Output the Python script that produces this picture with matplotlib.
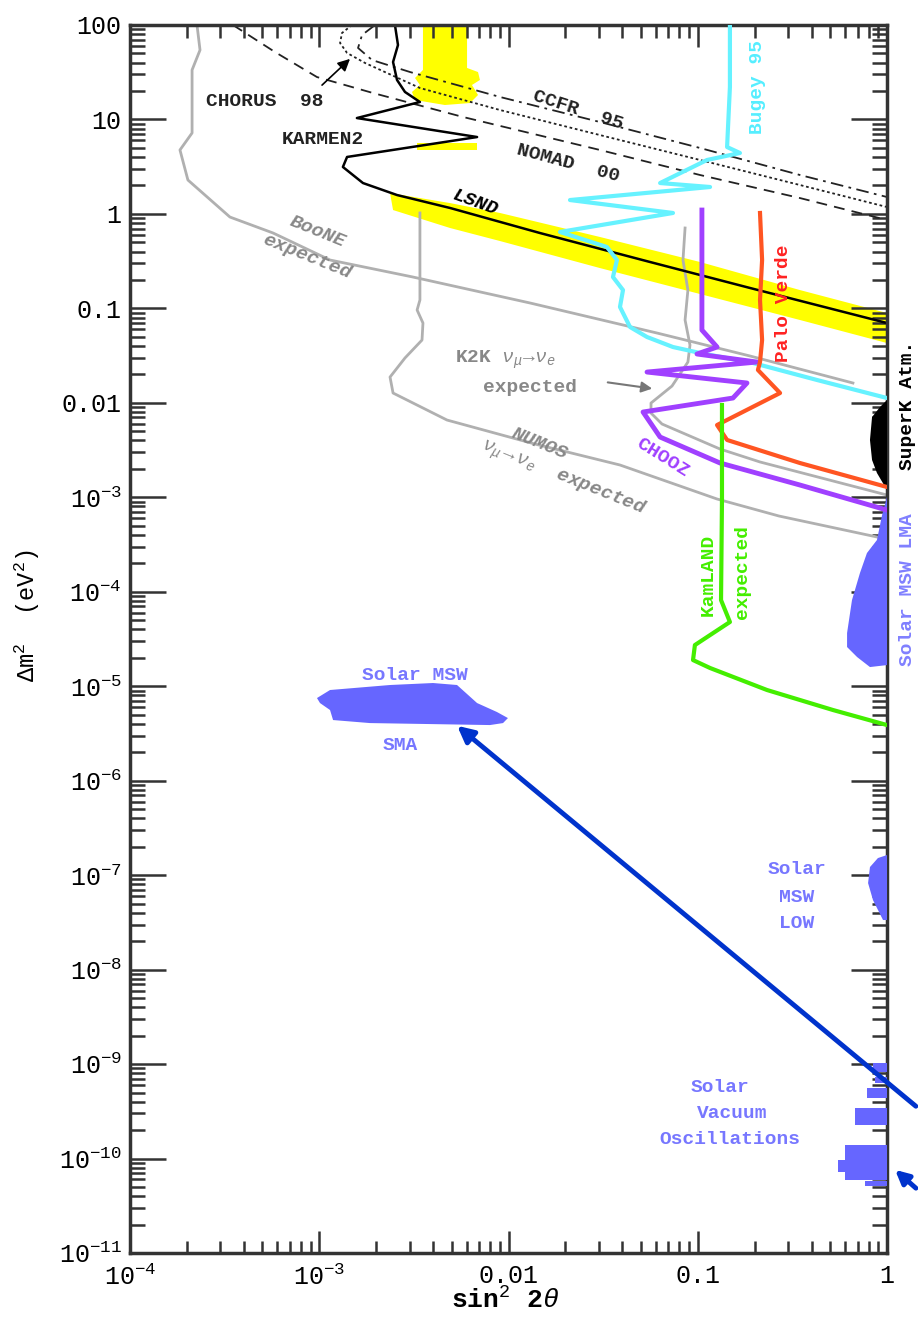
import matplotlib.pyplot as plt
import numpy as np
from matplotlib.ticker import FixedLocator, LogLocator, NullFormatter

plt.rcParams['font.family'] = ['Liberation Mono', 'DejaVu Sans Mono']
plt.rcParams['mathtext.fontset'] = 'custom'
plt.rcParams['mathtext.rm'] = 'Liberation Mono'
plt.rcParams['mathtext.it'] = 'Liberation Mono:italic'
plt.rcParams['mathtext.bf'] = 'Liberation Mono:bold'

# all curves stored as log10(sin^2 2theta), log10(dm^2 / eV^2)
boone_lx = [-3.646, -3.630, -3.672, -3.672, -3.736, -3.694, -3.472, -3.244, -2.943, -2.505, -1.886, -1.215, -0.724, -0.180]
boone_ly = [2.0, 1.735, 1.524, 0.857, 0.677, 0.359, -0.033, -0.202, -0.488, -0.668, -0.943, -1.261, -1.504, -1.790]

k2k_lx = [-1.067, -1.078, -1.052, -1.067, -1.041, -1.052, -1.136, -1.247, -1.247, -1.189, -0.882, -0.671, 0.0]
k2k_ly = [-0.149, -0.488, -0.806, -1.123, -1.388, -1.568, -1.822, -2.002, -2.108, -2.224, -2.489, -2.626, -2.976]

numi_lx = [-2.468, -2.468, -2.483, -2.452, -2.457, -2.547, -2.626, -2.610, -2.325, -1.860, -1.411, -0.898, -0.571, -0.053]
numi_ly = [0.010, -0.911, -1.017, -1.155, -1.335, -1.525, -1.727, -1.896, -2.182, -2.436, -2.658, -3.018, -3.198, -3.420]

nomad_lx = [-3.456, -3.234, -3.012, -2.716, -2.240, -1.517, -0.988, -0.460, 0.0]
nomad_ly = [2.0, 1.714, 1.449, 1.280, 1.026, 0.677, 0.412, 0.168, -0.064]

ccfr_lx = [-2.705, -2.774, -2.795, -2.721, -2.520, -2.045, -1.517, -0.988, -0.460, 0.0]
ccfr_ly = [2.0, 1.894, 1.757, 1.629, 1.502, 1.238, 0.973, 0.698, 0.412, 0.179]

chorus_lx = [-2.827, -2.880, -2.890, -2.853, -2.758, -2.468, -2.045, -1.517, -0.988, -0.460, 0.0]
chorus_ly = [2.0, 1.915, 1.809, 1.704, 1.598, 1.333, 1.100, 0.835, 0.571, 0.306, 0.073]

karmen_lx = [-2.600, -2.584, -2.610, -2.589, -2.547, -2.468, -2.801, -2.166, -2.853, -2.875, -2.769, -2.589, -2.309, -1.834, -1.252, -0.724, 0.0]
karmen_ly = [2.0, 1.788, 1.608, 1.418, 1.291, 1.185, 1.015, 0.814, 0.603, 0.497, 0.327, 0.200, 0.063, -0.202, -0.509, -0.784, -1.155]

lsnd_up_lx = [-2.626, -2.309, -2.045, -1.517, -0.988, -0.460, 0.0]
lsnd_up_ly = [0.221, 0.115, 0.010, -0.244, -0.509, -0.806, -1.049]
lsnd_lo_lx = [-2.610, -2.309, -2.045, -1.517, -0.988, -0.460, 0.0]
lsnd_lo_ly = [0.041, -0.149, -0.287, -0.573, -0.848, -1.123, -1.367]
lsnd_top_lx = [-2.452, -2.219, -2.219, -2.161, -2.151, -2.193, -2.161, -2.203, -2.336, -2.494, -2.510, -2.468, -2.494, -2.452]
lsnd_top_ly = [2.0, 2.0, 1.545, 1.502, 1.418, 1.365, 1.259, 1.174, 1.153, 1.206, 1.291, 1.365, 1.439, 1.524]
lsnd_stripe_lx = [-2.483, -2.166]
lsnd_stripe_ly = [0.677, 0.751]

bugey_lx = [-0.830, -0.830, -0.845, -0.777, -0.951, -1.199, -0.935, -1.675, -1.131, -1.728, -1.480, -1.427, -1.448, -1.395, -1.411, -1.358, -1.268, -1.131, -0.988, -0.708, -0.370, 0.0]
bugey_ly = [2.0, 1.344, 0.708, 0.645, 0.571, 0.327, 0.285, 0.147, 0.010, -0.191, -0.350, -0.488, -0.668, -0.806, -0.985, -1.197, -1.303, -1.409, -1.472, -1.578, -1.758, -1.949]

chooz_lx = [-0.978, -0.978, -0.898, -1.004, -0.687, -1.268, -0.740, -0.814, -1.289, -1.199, -0.882, -0.460, 0.0]
chooz_ly = [0.041, -1.229, -1.409, -1.483, -1.568, -1.674, -1.790, -1.949, -2.097, -2.362, -2.637, -2.870, -3.135]

palo_lx = [-0.671, -0.660, -0.671, -0.660, -0.671, -0.682, -0.565, -0.898, -0.845, -0.460, 0.0]
palo_ly = [0.010, -0.488, -0.911, -1.335, -1.568, -1.652, -1.896, -2.235, -2.393, -2.637, -2.891]

kamland_lx = [-0.872, -0.872, -0.877, -0.830, -1.015, -1.025, -0.935, -0.634, -0.285, 0.0]
kamland_ly = [-2.023, -3.029, -4.088, -4.320, -4.564, -4.723, -4.807, -5.040, -5.252, -5.411]

superk_lx = [0.0, -0.037, -0.079, -0.090, -0.079, -0.053, 0.0]
superk_ly = [-1.970, -2.044, -2.150, -2.393, -2.605, -2.743, -2.923]

lma_lx = [0.0, -0.026, -0.053, -0.106, -0.143, -0.185, -0.211, -0.211, -0.158, -0.090, 0.0]
lma_ly = [-2.997, -3.188, -3.452, -3.590, -3.802, -4.088, -4.437, -4.585, -4.691, -4.797, -4.776]

sma_lx = [-3.012, -2.943, -2.626, -2.399, -2.272, -2.166, -2.061, -2.003, -2.029, -2.098, -2.732, -2.927, -2.943, -2.996]
sma_ly = [-5.125, -5.040, -4.987, -4.966, -4.987, -5.178, -5.273, -5.337, -5.390, -5.411, -5.390, -5.358, -5.252, -5.178]

low_lx = [0.0, -0.048, -0.090, -0.100, -0.074, -0.021, 0.0]
low_ly = [-6.787, -6.819, -6.914, -7.084, -7.264, -7.475, -7.475]

# solar vacuum oscillation islands: (log dm2 low, log dm2 high, log sin2 left edge)
vac_hi = [-8.989, -9.137, -9.254, -9.465, -9.857, -10.016, -10.143, -10.238]
vac_lo = [-9.085, -9.201, -9.360, -9.645, -10.016, -10.143, -10.228, -10.291]
vac_left = [-0.074, -0.063, -0.106, -0.169, -0.222, -0.259, -0.222, -0.116]

y_tick_labels = [r'$\mathregular{10^{-11}}$', r'$\mathregular{10^{-10}}$', r'$\mathregular{10^{-9}}$',
                 r'$\mathregular{10^{-8}}$', r'$\mathregular{10^{-7}}$', r'$\mathregular{10^{-6}}$',
                 r'$\mathregular{10^{-5}}$', r'$\mathregular{10^{-4}}$', r'$\mathregular{10^{-3}}$',
                 '0.01', '0.1', '1', '10', '100']
x_tick_labels = [r'$\mathregular{10^{-4}}$', r'$\mathregular{10^{-3}}$', '0.01', '0.1', '1']

W, H = 918, 1317


def P(x, y):
    """pixel position in the figure -> figure fraction"""
    return x / W, 1 - y / H


def E(a):
    return 10.0 ** np.asarray(a)


fig = plt.figure(figsize=(W / 100, H / 100), dpi=100)
ax = fig.add_axes([130 / W, 1 - 1253 / H, (887 - 130) / W, (1253 - 25) / H])
ax.set_xscale('log')
ax.set_yscale('log')
ax.set_xlim(1e-4, 1)
ax.set_ylim(1e-11, 100)

blue = '#6666ff'
grey = '#b0b0b0'

# LSND band
ax.fill(E(lsnd_up_lx + lsnd_lo_lx[::-1]), E(lsnd_up_ly + lsnd_lo_ly[::-1]), color='#ffff00', lw=0, zorder=1)
ax.fill(E(lsnd_top_lx), E(lsnd_top_ly), color='#ffff00', lw=0, zorder=1)
ax.fill_between(E(lsnd_stripe_lx), E(lsnd_stripe_ly[0]), E(lsnd_stripe_ly[1]), color='#ffff00', lw=0, zorder=1)

# allowed regions
ax.fill(E(superk_lx), E(superk_ly), color='black', lw=0, zorder=3)
ax.fill(E(lma_lx), E(lma_ly), color=blue, lw=0, zorder=3)
ax.fill(E(sma_lx), E(sma_ly), color=blue, lw=0, zorder=3)
ax.fill(E(low_lx), E(low_ly), color=blue, lw=0, zorder=3)
for lo, hi, left in zip(vac_lo, vac_hi, vac_left):
    ax.fill_betweenx([10.0 ** lo, 10.0 ** hi], 10.0 ** left, 1.0, color=blue, lw=0, zorder=3)

# grey expected sensitivities
ax.plot(E(boone_lx), E(boone_ly), color=grey, lw=2, zorder=2)
ax.plot(E(k2k_lx), E(k2k_ly), color=grey, lw=2, zorder=2)
ax.plot(E(numi_lx), E(numi_ly), color=grey, lw=2, zorder=2)

# accelerator limits
ax.plot(E(nomad_lx), E(nomad_ly), color='#222222', lw=1.3, ls=(0, (6, 4)), zorder=2)
ax.plot(E(ccfr_lx), E(ccfr_ly), color='#222222', lw=1.3, ls=(0, (7, 3, 1.5, 3)), zorder=2)
ax.plot(E(chorus_lx), E(chorus_ly), color='#222222', lw=1.3, ls=(0, (1.5, 1.5)), zorder=2)
ax.plot(E(karmen_lx), E(karmen_ly), color='black', lw=1.8, zorder=2)

# reactor limits
ax.plot(E(bugey_lx), E(bugey_ly), color='#66f2ff', lw=3, zorder=4)
ax.plot(E(chooz_lx), E(chooz_ly), color='#a040ff', lw=3.5, zorder=4)
ax.plot(E(palo_lx), E(palo_ly), color='#ff5522', lw=3, zorder=4)
ax.plot(E(kamland_lx), E(kamland_ly), color='#44ee00', lw=3, zorder=4)

# axes styling
for s in ax.spines.values():
    s.set_color('#333333')
    s.set_linewidth(2.5)
ax.xaxis.set_major_locator(FixedLocator(E([-4, -3, -2, -1, 0])))
ax.set_xticklabels(x_tick_labels)
ax.yaxis.set_major_locator(FixedLocator(E(np.arange(-11, 3))))
ax.set_yticklabels(y_tick_labels)
ax.xaxis.set_minor_locator(LogLocator(base=10, subs=range(2, 10), numticks=20))
ax.yaxis.set_minor_locator(LogLocator(base=10, subs=range(2, 10), numticks=30))
ax.xaxis.set_minor_formatter(NullFormatter())
ax.yaxis.set_minor_formatter(NullFormatter())
ax.tick_params(which='both', direction='in', top=True, right=True, color='#333333', width=1.8, labelsize=18)
ax.tick_params(axis='y', which='major', length=26, pad=6)
ax.tick_params(axis='y', which='minor', length=11)
ax.tick_params(axis='x', which='major', length=16, pad=8)
ax.tick_params(axis='x', which='minor', length=9)

# axis titles
fig.text(*P(27, 615), r'$\Delta$m$^2$  (eV$^2$)', rotation=90, ha='center', va='center', fontsize=17)
fig.text(*P(505, 1300), r'sin$^2$ 2$\theta$', ha='center', va='center', fontsize=19, fontweight='bold')

# labels
lab = dict(ha='center', va='center', fontsize=14, fontweight='bold')
fig.text(*P(265, 101), 'CHORUS  98', color='#222222', **lab)
fig.text(*P(323, 140), 'KARMEN2', color='#222222', **lab)
fig.text(*P(578, 110), 'CCFR  95', color='#222222', rotation=-18, **lab)
fig.text(*P(568, 163), 'NOMAD  00', color='#222222', rotation=-15, **lab)
fig.text(*P(476, 203), 'LSND', color='black', rotation=-20, style='italic', **lab)
fig.text(*P(318, 232), 'BooNE', color='#888888', rotation=-22, style='italic', **lab)
fig.text(*P(307, 257), 'expected', color='#888888', rotation=-22, style='italic', **lab)
fig.text(*P(505, 360), r'K2K $\nu_\mu\!\rightarrow\!\nu_e$', color='#888888', **lab)
fig.text(*P(530, 387), 'expected', color='#888888', **lab)
fig.text(*P(540, 444), 'NUMOS', color='#888888', rotation=-22, style='italic', **lab)
fig.text(*P(563, 478), r'$\nu_\mu\rightarrow\nu_e$  expected', color='#888888', rotation=-22, style='italic', **lab)
fig.text(*P(663, 458), 'CHOOZ', color='#a040ff', rotation=-32, **lab)
fig.text(*P(757, 87), 'Bugey 95', color='#55eeff', rotation=90, **lab)
fig.text(*P(783, 303), 'Palo Verde', color='#ff2222', rotation=90, **lab)
fig.text(*P(907, 405), 'SuperK Atm.', color='black', rotation=90, **lab)
fig.text(*P(908, 590), 'Solar MSW LMA', color='#8080ff', rotation=90, **lab)
fig.text(*P(708, 575), 'KamLAND', color='#44ee00', rotation=90, **lab)
fig.text(*P(742, 572), 'expected', color='#44ee00', rotation=90, **lab)
fig.text(*P(415, 675), 'Solar MSW', color='#7777ff', **lab)
fig.text(*P(400, 745), 'SMA', color='#7777ff', **lab)
for t, y in zip(['Solar', 'MSW', 'LOW'], [870, 897, 923]):
    fig.text(*P(797, y), t, color='#7777ff', **lab)
for t, x, y in zip(['Solar', 'Vacuum', 'Oscillations'], [720, 732, 730], [1087, 1113, 1140]):
    fig.text(*P(x, y), t, color='#7777ff', **lab)

# arrows
ax.annotate('', xy=P(352, 57), xytext=P(320, 87), xycoords='figure fraction', textcoords='figure fraction',
            arrowprops=dict(arrowstyle='-|>', color='black', lw=1.2, mutation_scale=18))
ax.annotate('', xy=P(655, 389), xytext=P(605, 382), xycoords='figure fraction', textcoords='figure fraction',
            arrowprops=dict(arrowstyle='-|>', color='#777777', lw=1.5, mutation_scale=16))
ax.annotate('', xy=P(455, 724), xytext=P(918, 1108), xycoords='figure fraction', textcoords='figure fraction',
            arrowprops=dict(arrowstyle='-|>', color='#0033cc', lw=3.5, mutation_scale=24), annotation_clip=False)
ax.annotate('', xy=P(893, 1168), xytext=P(918, 1190), xycoords='figure fraction', textcoords='figure fraction',
            arrowprops=dict(arrowstyle='-|>', color='#0033cc', lw=3.5, mutation_scale=20), annotation_clip=False)

fig.savefig('out.png', dpi=100)
